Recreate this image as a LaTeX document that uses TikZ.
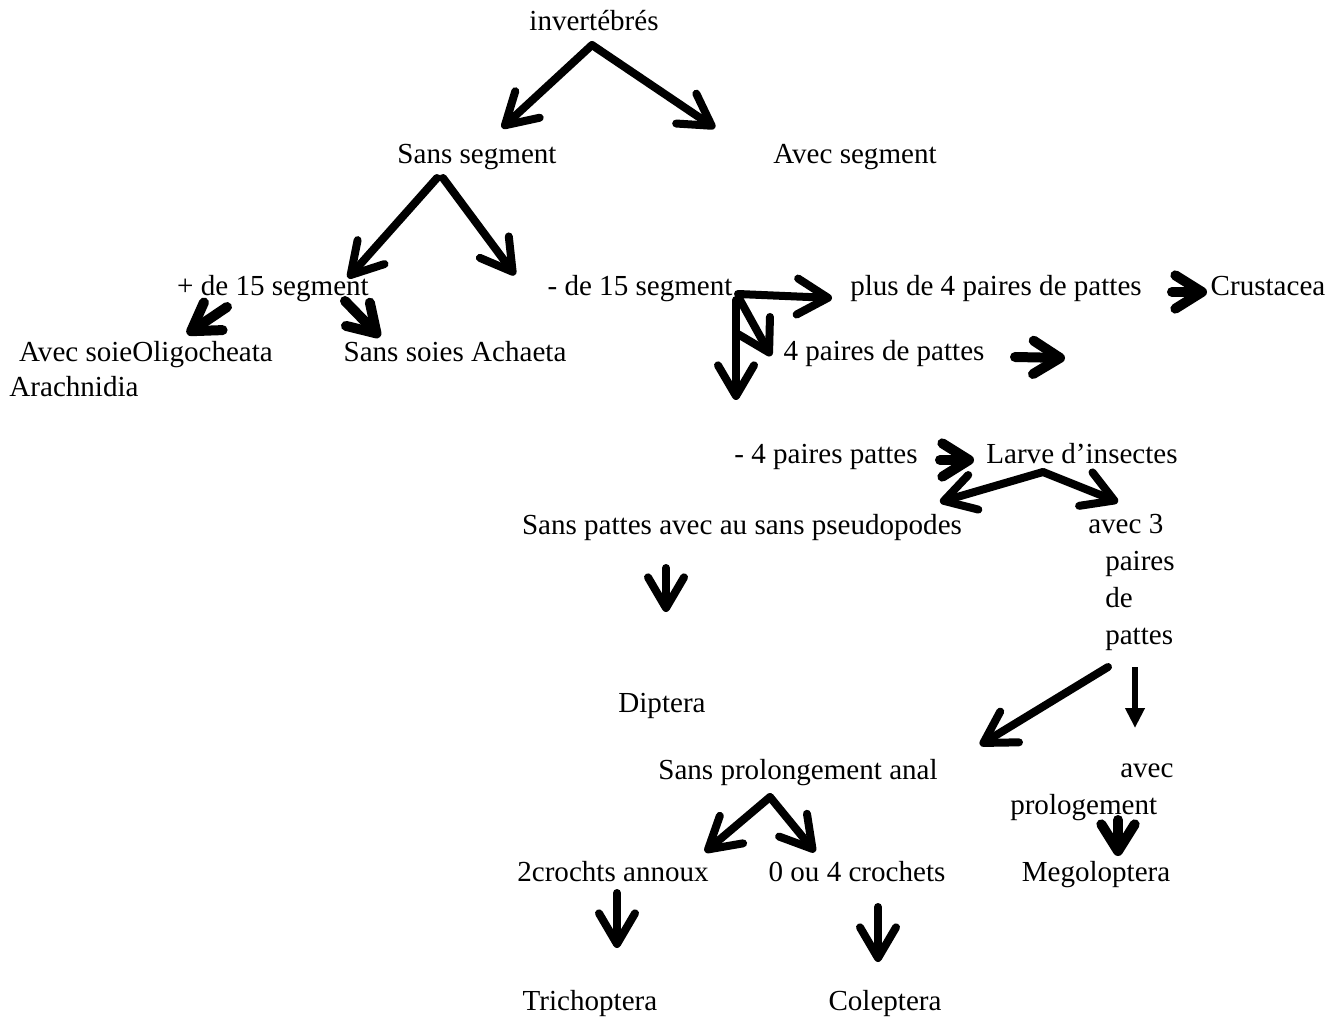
\documentclass[tikz,border=0pt]{standalone}
\usepackage{fontspec}
\setmainfont{Liberation Serif}
\usetikzlibrary{arrows.meta}
\begin{document}
\begin{tikzpicture}[x=0.75pt,y=-0.75pt,
    every node/.style={font=\fontsize{21.8}{27.75}\selectfont,inner sep=0pt},
    fleche/.style={line width=6pt,line cap=round,line join=round,-{Straight Barb[round,length=23pt,width=27pt]}},
    flechegrosse/.style={line width=7.5pt,line cap=round,line join=round,-{Straight Barb[round,length=20pt,width=25pt]}},
    flechepleine/.style={line width=4.5pt,-{Triangle[length=15pt,width=14pt]}}]

    \useasboundingbox (0,0) rectangle (1342,1019);

    %textes
    \node (inv) at (594,31)[anchor=base]{invertébrés};
    \node (sansseg) at (477,164)[anchor=base]{Sans segment};
    \node (avecseg) at (855,164)[anchor=base]{Avec segment};
    \node (plus15) at (273,296)[anchor=base]{+ de 15 segment};
    \node (moins15) at (640,296)[anchor=base]{- de 15 segment};
    \node (plus4) at (996,296)[anchor=base]{plus de 4 paires de pattes};
    \node (crust) at (1268,296)[anchor=base]{Crustacea};
    \node (soie) at (146,362)[anchor=base]{Avec soieOligocheata};
    \node (soies) at (455,362)[anchor=base]{Sans soies Achaeta};
    \node (arach) at (74,397)[anchor=base]{Arachnidia};
    \node (quatre) at (884,361)[anchor=base]{4 paires de pattes};
    \coordinate (vide) at (1065,358);
    \node (moins4) at (826,464)[anchor=base]{- 4 paires pattes};
    \node (larve) at (1082,464)[anchor=base]{Larve d’insectes};
    \node (sanspat) at (742,534)[anchor=base]{Sans pattes avec au sans pseudopodes};
    \node (avec3) at (1088,514)[anchor=north west,align=left]{avec 3\\\hspace*{12.75pt}paires\\\hspace*{12.75pt}de\\\hspace*{12.75pt}pattes};
    \node (diptera) at (662,712)[anchor=base]{Diptera};
    \node (sansprol) at (798,779)[anchor=base]{Sans prolongement anal};
    \node (avecprol) at (1010,764)[anchor=north west,align=left]{\hspace*{82.5pt}avec\\prologement};
    \node (megol) at (1096,881)[anchor=base]{Megoloptera};
    \node (crochts2) at (613,881)[anchor=base]{2crochts annoux};
    \node (crochets4) at (857,881)[anchor=base]{0 ou 4 crochets};
    \node (trich) at (590,1010)[anchor=base]{Trichoptera};
    \node (colept) at (885,1010)[anchor=base]{Coleptera};

    %fleches
    \draw[fleche] ([shift={(-2,14)}]inv.base) -- ([shift={(25,-36)}]sansseg.base);
    \draw[fleche] ([shift={(-2,14)}]inv.base) -- ([shift={(-140,-36)}]avecseg.base);
    \draw[fleche] ([shift={(-40,14)}]sansseg.base) -- ([shift={(75,-18)}]plus15.base);
    \draw[fleche] ([shift={(-34,14)}]sansseg.base) -- ([shift={(-125,-21)}]moins15.base);
    \draw[flechegrosse] ([shift={(-46,11)}]plus15.base) -- ([shift={(41,-28)}]soie.base);
    \draw[flechegrosse] ([shift={(72,5)}]plus15.base) -- ([shift={(-75,-25)}]soies.base);
    \draw[fleche] ([shift={(98,-2)}]moins15.base) -- ([shift={(-164,2)}]plus4.base);
    \draw[fleche] ([shift={(100,4)}]moins15.base) -- ([shift={(-113,-5)}]quatre.base);
    \draw[fleche] ([shift={(96,4)}]moins15.base) -- ([shift={(-90,-64)}]moins4.base);
    \draw[flechegrosse] ([shift={(176,-4)}]plus4.base) -- ([shift={(-61,-4)}]crust.base);
    \draw[flechegrosse] ([shift={(131,-4)}]quatre.base) -- (vide);
    \draw[flechegrosse] ([shift={(114,-4)}]moins4.base) -- ([shift={(-108,-4)}]larve.base);
    \draw[fleche] ([shift={(-39,8)}]larve.base) -- ([shift={(198,-32)}]sanspat.base);
    \draw[fleche] ([shift={(-39,8)}]larve.base) -- ([shift={(30,-12)}]avec3.north west);
    \draw[fleche] ([shift={(-76,34)}]sanspat.base) -- ([shift={(4,-100)}]diptera.base);
    \draw[fleche] ([shift={(20,153)}]avec3.north west) -- ([shift={(182,-34)}]sansprol.base);
    \draw[flechepleine] ([shift={(47,153)}]avec3.north west) -- ([shift={(125,-36)}]avecprol.north west);
    \draw[flechegrosse] ([shift={(108,56)}]avecprol.north west) -- ([shift={(22,-25)}]megol.base);
    \draw[fleche] ([shift={(-28,18)}]sansprol.base) -- ([shift={(92,-29)}]crochts2.base);
    \draw[fleche] ([shift={(-28,18)}]sansprol.base) -- ([shift={(-42,-29)}]crochets4.base);
    \draw[fleche] ([shift={(4,12)}]crochts2.base) -- ([shift={(27,-62)}]trich.base);
    \draw[fleche] ([shift={(21,26)}]crochets4.base) -- ([shift={(-7,-48)}]colept.base);
\end{tikzpicture}
\end{document}
